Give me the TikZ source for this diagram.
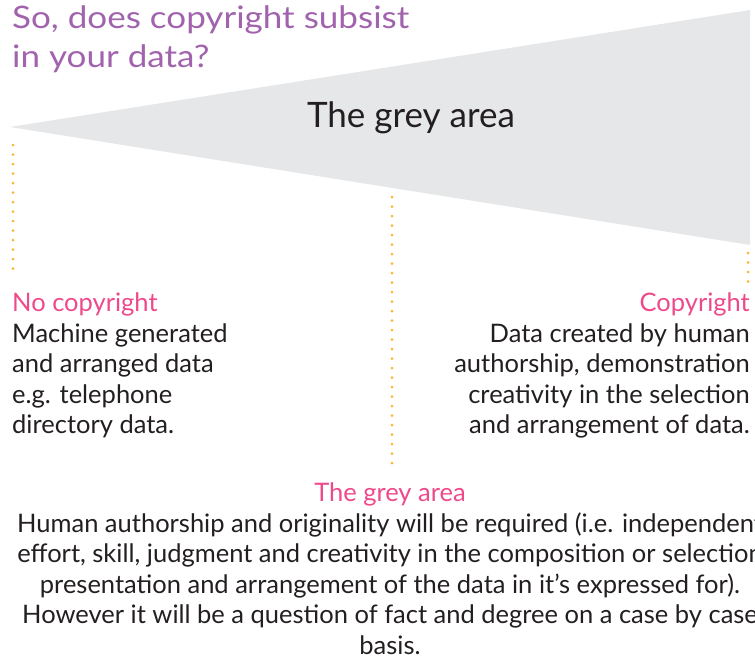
\documentclass[tikz,border=0pt]{standalone}
\usepackage{fontspec}
\setmainfont{Lato}
\newfontfamily\titrefont[FakeStretch=1.13]{Lato}
\usetikzlibrary{positioning}
\definecolor{titreviolet}{HTML}{A163AD}
\definecolor{rose}{HTML}{EE4A8B}
\definecolor{ocre}{HTML}{F9B632}
\definecolor{gris}{HTML}{E6E7E8}
\definecolor{encre}{HTML}{231F20}
\begin{document}
\begin{tikzpicture}[x=1pt,y=-1pt]
		% Styles
		\tikzstyle{pointilles}=[ocre,line width=3pt,line cap=round,dash pattern=on 0pt off 9.5pt]
		\tikzstyle{titre}=[titreviolet,inner sep=0pt,align=left,font=\titrefont\fontsize{31}{39}\selectfont]
		\tikzstyle{zone}=[encre,inner sep=0pt,font=\fontsize{35}{40}\selectfont]
		\tikzstyle{bloc}=[encre,inner sep=0pt,font=\fontsize{25.5}{30.5}\selectfont]
		\tikzstyle{blocbas}=[encre,inner sep=0pt,align=center,font=\fontsize{25.5}{30.5}\selectfont]
		% Cadre
		\useasboundingbox (0,0) rectangle (755,657);
		% Zone grise
		\coordinate (pointe) at (10,127);
		\coordinate (hautdroit) at (750,10);
		\coordinate (basdroit) at (750,245);
		\fill[gris] (pointe)--(hautdroit)--(basdroit)--cycle;
		% Noeuds
		\node[titre,anchor=north west] (question) at (12,5) {So, does copyright subsist\\in your data?};
		\node[zone] (zonegrise) at (411,118) {The grey area};
		\node[bloc,align=left,anchor=north west] (sanscopie) at (12,293)
			{\textcolor{rose}{No copyright}\\Machine generated\\and arranged data\\e.g. telephone\\directory data.};
		\node[bloc,align=right,anchor=north east] (copie) at (750,293)
			{\textcolor{rose}{Copyright}\\Data created by human\\authorship, demonstration\\creativity in the selection\\and arrangement of data.};
		\node[blocbas,anchor=north] (grisbas) at (390,483)
			{\textcolor{rose}{The grey area}\\
			Human authorship and originality will be required (i.e. independent\\
			effort, skill, judgment and creativity in the composition or selection\\
			presentation and arrangement of the data in it’s expressed for).\\
			However it will be a question of fact and degree on a case by case\\
			basis.};
		% Pointilles
		\coordinate (depgauche) at (13,145);
		\coordinate (depmilieu) at (392,197);
		\coordinate (depdroite) at (748,253);
		\draw[pointilles,shorten >=16pt] (depgauche) -- (depgauche |- sanscopie.north);
		\draw[pointilles,shorten >=11pt] (depmilieu) -- (depmilieu |- grisbas.north);
		\draw[pointilles,shorten >=9pt] (depdroite) -- (depdroite |- copie.north);
	\end{tikzpicture}
\end{document}
